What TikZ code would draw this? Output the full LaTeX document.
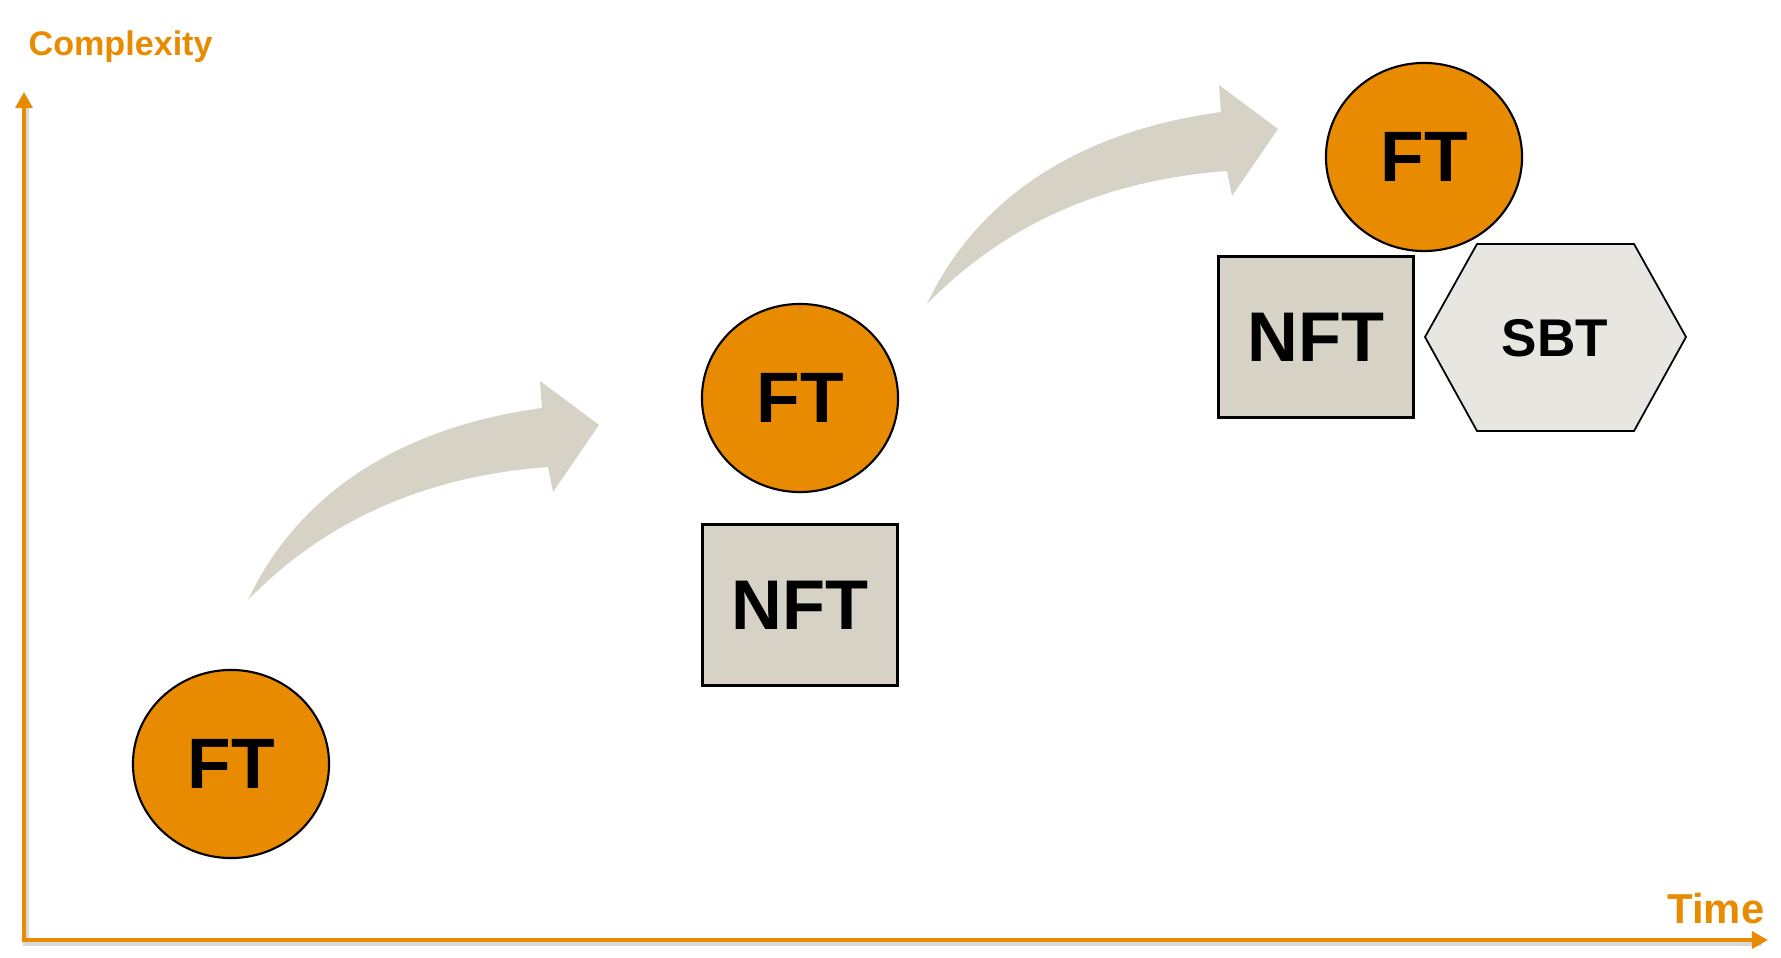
\documentclass[tikz,border=0pt]{standalone}
\usepackage{fontspec}
\setmainfont{Liberation Sans}
\usetikzlibrary{shapes.geometric,arrows.meta,positioning}

\definecolor{tokorange}{RGB}{233,139,0}
\definecolor{tokgrey}{RGB}{214,210,197}
\definecolor{hexgrey}{RGB}{232,230,225}

\tikzstyle{ftcoin} = [ellipse, minimum width=1.96cm, minimum height=1.88cm, inner sep=0pt, draw=black, line width=0.6pt, fill=tokorange, font=\fontsize{20.3}{24}\selectfont\bfseries]
\tikzstyle{nftbox} = [rectangle, minimum width=1.95cm, minimum height=1.61cm, inner sep=0pt, draw=black, line width=0.9pt, fill=tokgrey, font=\fontsize{20}{24}\selectfont\bfseries]
\tikzstyle{sbtlabel} = [inner sep=0pt, font=\fontsize{15.1}{18}\selectfont\bfseries]
\tikzstyle{axislabel} = [inner sep=0pt, text=tokorange, font=\bfseries]
\tikzstyle{axis} = [line width=1.4pt, draw=tokorange, {Triangle[width=4.8pt,length=4.6pt]}-{Triangle[width=4.8pt,length=4.6pt]}]
\tikzstyle{bendarrow} = [fill=tokgrey, draw=none]

\begin{document}
\begin{tikzpicture}[x=0.01cm, y=-0.01cm, node distance=2.07cm]
	\useasboundingbox (0,0) rectangle (1781,958);
	% Axes
	\coordinate (ytop) at (24,92);
	\coordinate (origin) at (24,940);
	\coordinate (xend) at (1768,940);
	\draw [line width=1.6pt, gray, opacity=0.3, shift={(2,3)}] (24,100) -- (24,940) -- (1760,940);
	\draw [axis] (ytop) -- (origin) -- (xend);
	\node [axislabel, anchor=base west, font=\fontsize{9.7}{12}\selectfont\bfseries] (complexity) at (28,56) {Complexity};
	\node [axislabel, anchor=base east, font=\fontsize{11.9}{14}\selectfont\bfseries] (time) at (1765,923) {Time};
	% Bent arrows
	\foreach \dx/\dy in {0/0, 679/-296} {
		\fill [bendarrow, shift={(\dx,\dy)}] (248,600) .. controls (290,510) and (380,430) .. (542,408)
			-- (540,381) -- (599,425) -- (553,492) -- (548,467)
			.. controls (426,476) and (326,520) .. (248,600) -- cycle;
	}
	% Hexagon behind SBT
	\draw [fill=hexgrey, line width=0.5pt, draw=black] (1425,337) -- (1477,244) -- (1634,244) -- (1686,337) -- (1634,431) -- (1477,431) -- cycle;
	% Place nodes
	\node [ftcoin] (fta) at (231,764) {FT};
	\node [ftcoin] (ftb) at (800,398) {FT};
	\node [nftbox, below of=ftb] (nftb) {NFT};
	\node [ftcoin] (ftc) at (1424,157) {FT};
	\node [nftbox, below of=ftc, xshift=-1.08cm, node distance=1.8cm] (nftc) {NFT};
	\node [sbtlabel] (sbt) at (1555,338) {SBT};
\end{tikzpicture}
\end{document}
